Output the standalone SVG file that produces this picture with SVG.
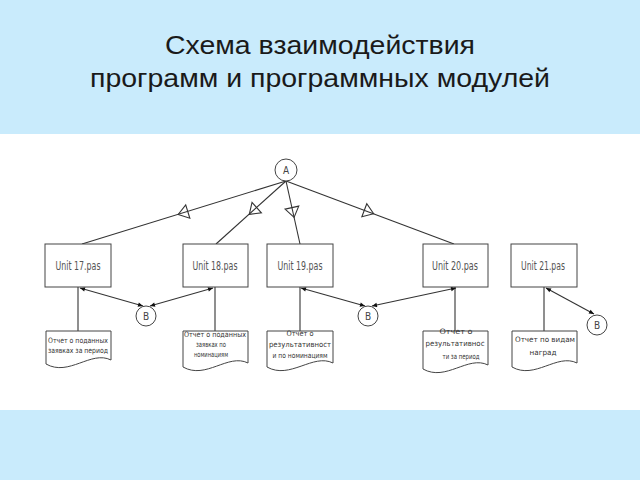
<svg xmlns="http://www.w3.org/2000/svg" width="640" height="480" viewBox="0 0 640 480">
<style>
.t{font-family:"Liberation Sans",Arial,sans-serif;fill:#1a1a1a;font-size:26px}
.box{fill:#fff;stroke:#444;stroke-width:1}
.ln{stroke:#333;stroke-width:1.1;fill:none}
.tri{fill:none;stroke:#333;stroke-width:1.1}
.u{font-family:"DejaVu Sans Condensed","DejaVu Sans",sans-serif;font-size:12px;fill:#555;text-anchor:middle}
.d{font-family:"DejaVu Sans Condensed","DejaVu Sans",sans-serif;font-size:7.5px;fill:#333;text-anchor:middle}
.c{font-family:"DejaVu Sans Condensed","DejaVu Sans",sans-serif;font-size:10px;fill:#444;text-anchor:middle}
</style>
<defs>
<marker id="arr" viewBox="0 0 10 10" refX="10" refY="5" markerWidth="6" markerHeight="5" markerUnits="userSpaceOnUse" orient="auto-start-reverse">
<path d="M0,0.5 L10,5 L0,9.5 z" fill="#111"/>
</marker>
</defs>
<rect x="0" y="0" width="640" height="480" fill="#C9EBFC"/>
<rect x="0" y="134" width="640" height="276" fill="#fff"/>
<text class="t" x="320" y="54" text-anchor="middle" textLength="310" lengthAdjust="spacingAndGlyphs">Схема взаимодействия</text>
<text class="t" x="320" y="87" text-anchor="middle" textLength="460" lengthAdjust="spacingAndGlyphs">программ и программных модулей</text>

<g id="connectors">
<line class="ln" x1="286" y1="181" x2="82" y2="244"/>
<line class="ln" x1="286" y1="181" x2="216" y2="244"/>
<line class="ln" x1="286" y1="181" x2="300" y2="244"/>
<line class="ln" x1="286" y1="181" x2="454" y2="244"/>
<polygon class="tri" points="5,0 -5,-7 -5,7" transform="translate(183,213) rotate(162.84)"/>
<polygon class="tri" points="5,0 -5,-7 -5,7" transform="translate(253,211) rotate(138)"/>
<polygon class="tri" points="5,0 -5,-7 -5,7" transform="translate(293,212.5) rotate(77.47)"/>
<polygon class="tri" points="5,0 -5,-7 -5,7" transform="translate(369,212) rotate(20.56)"/>
<line class="ln" x1="78" y1="287" x2="78" y2="331"/>
<line class="ln" x1="215" y1="287" x2="215" y2="331"/>
<line class="ln" x1="300" y1="287" x2="300" y2="331"/>
<line class="ln" x1="455" y1="287" x2="455" y2="331"/>
<line class="ln" x1="544" y1="287" x2="544" y2="331"/>
<line class="ln" x1="143" y1="306" x2="80" y2="288" marker-start="url(#arr)" marker-end="url(#arr)"/>
<line class="ln" x1="150" y1="306" x2="213" y2="288" marker-start="url(#arr)" marker-end="url(#arr)"/>
<line class="ln" x1="365" y1="306" x2="301" y2="288" marker-start="url(#arr)" marker-end="url(#arr)"/>
<line class="ln" x1="372" y1="306" x2="456" y2="288" marker-start="url(#arr)" marker-end="url(#arr)"/>
<line class="ln" x1="594" y1="314" x2="546" y2="288" marker-start="url(#arr)" marker-end="url(#arr)"/>
</g>

<g id="nodeA"><circle class="box" cx="286" cy="170" r="11"/><text class="c" x="286" y="174">A</text></g>

<g id="unit17"><rect class="box" x="45" y="244" width="66" height="43"/><text class="u" x="78" y="270" textLength="45" lengthAdjust="spacingAndGlyphs">Unit 17.pas</text></g>
<g id="unit18"><rect class="box" x="183" y="244" width="65" height="43"/><text class="u" x="215" y="270" textLength="45" lengthAdjust="spacingAndGlyphs">Unit 18.pas</text></g>
<g id="unit19"><rect class="box" x="267" y="244" width="66" height="43"/><text class="u" x="300" y="270" textLength="45" lengthAdjust="spacingAndGlyphs">Unit 19.pas</text></g>
<g id="unit20"><rect class="box" x="423" y="244" width="65" height="43"/><text class="u" x="455" y="270" textLength="46" lengthAdjust="spacingAndGlyphs">Unit 20.pas</text></g>
<g id="unit21"><rect class="box" x="511" y="244" width="66" height="43"/><text class="u" x="543" y="270" textLength="44" lengthAdjust="spacingAndGlyphs">Unit 21.pas</text></g>

<g id="nodeB1"><circle class="box" cx="146" cy="316" r="10"/><text class="c" x="146" y="320">B</text></g>
<g id="nodeB2"><circle class="box" cx="368" cy="316" r="10"/><text class="c" x="368" y="320">B</text></g>
<g id="nodeB3"><circle class="box" cx="597" cy="325" r="10"/><text class="c" x="597" y="329">B</text></g>

<g id="doc1"><path class="box" d="M46,331 H111 V360 C91,350 69,377 46,364 Z"/>
<text class="d" x="78" y="343" textLength="60" lengthAdjust="spacingAndGlyphs">Отчет о поданных</text>
<text class="d" x="78" y="353" textLength="60" lengthAdjust="spacingAndGlyphs">заявках за период</text></g>
<g id="doc2"><path class="box" d="M183,331 H248 V363 C228,353 206,380 183,367 Z"/>
<text class="d" x="215" y="337" textLength="62" lengthAdjust="spacingAndGlyphs">Отчет о поданных</text>
<text class="d" x="211" y="347" textLength="30" lengthAdjust="spacingAndGlyphs">заявках по</text>
<text class="d" x="211" y="357" textLength="34" lengthAdjust="spacingAndGlyphs">номинациям</text></g>
<g id="doc3"><path class="box" d="M267,331 H333 V363 C313,353 290,380 267,367 Z"/>
<text class="d" x="300" y="336" textLength="27" lengthAdjust="spacingAndGlyphs">Отчет о</text>
<text class="d" x="300" y="347" textLength="62" lengthAdjust="spacingAndGlyphs">результативност</text>
<text class="d" x="300" y="358" textLength="55" lengthAdjust="spacingAndGlyphs">и по номинациям</text></g>
<g id="doc4"><path class="box" d="M423,331 H488 V365 C468,355 446,382 423,369 Z"/>
<text class="d" x="456" y="334" textLength="33" lengthAdjust="spacingAndGlyphs">Отчет о</text>
<text class="d" x="455" y="346" textLength="59" lengthAdjust="spacingAndGlyphs">результативнос</text>
<text class="d" x="461" y="359" textLength="37" lengthAdjust="spacingAndGlyphs">ти за период</text></g>
<g id="doc5"><path class="box" d="M512,331 H577 V363 C557,353 535,380 512,367 Z"/>
<text class="d" x="545" y="342" textLength="60" lengthAdjust="spacingAndGlyphs">Отчет по видам</text>
<text class="d" x="543" y="355" textLength="27" lengthAdjust="spacingAndGlyphs">наград</text></g>
</svg>
